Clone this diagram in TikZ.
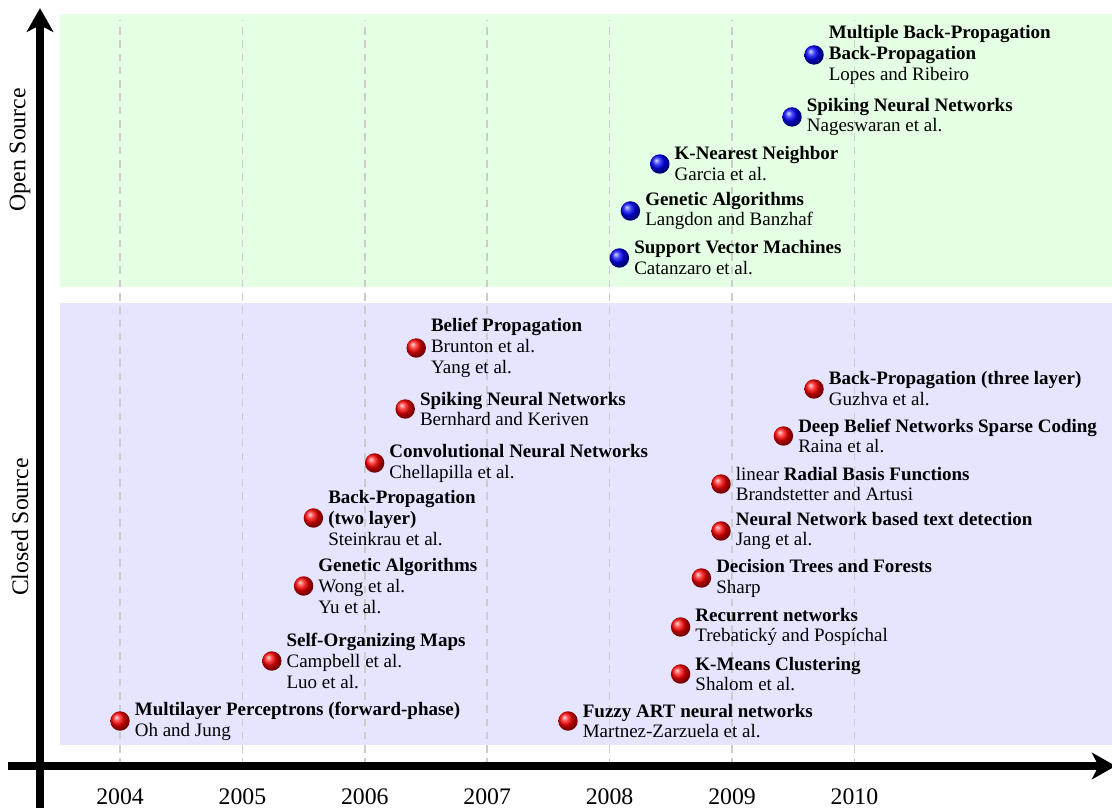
\documentclass[tikz,border=0pt]{standalone}
\usepackage{fontspec}
\setmainfont{Liberation Serif}
\usetikzlibrary{arrows.meta,positioning}

\begin{document}
\begin{tikzpicture}[
  gridline/.style={gray!40, line width=0.8pt, dash pattern=on 4pt off 3pt},
  axis/.style={line width=3.9pt, -{Stealth[length=12.5pt,width=14pt,inset=3.5pt]}},
  openball/.style={circle, inner sep=0pt, minimum size=0.36cm, shading=ball, ball color=blue},
  closedball/.style={circle, inner sep=0pt, minimum size=0.36cm, shading=ball, ball color=red},
  entry/.style={align=left, inner sep=2.3pt, font=\fontsize{10}{11}\selectfont},
  yearlabel/.style={font=\fontsize{12.5}{15}\selectfont},
  sidelabel/.style={rotate=90, font=\fontsize{12.5}{15}\selectfont}
]
\useasboundingbox (-0.74,-0.777) rectangle (19.832,14.171);

% source bands
\fill[green!10] (0.37,8.8615) rectangle (19.832,13.912);
\fill[blue!10] (0.37,0.3885) rectangle (19.832,8.5655);

\foreach \i in {0,...,6}
  \draw[gridline] ({1.48+\i*2.2644},0) -- ({1.48+\i*2.2644},13.8);

% axes
\coordinate (xstart) at (-0.592,0);
\coordinate (xend) at (19.9,0);
\coordinate (ystart) at (0,-0.777);
\coordinate (yend) at (0,14.02);
\draw[axis] (xstart) -- (xend);
\draw[axis] (ystart) -- (yend);

\foreach \yr [count=\i from 0] in {2004,...,2010}
  \node[yearlabel] (y\yr) at ({1.48+\i*2.2644},-0.5735) {\yr};

\node[sidelabel] (open) at (-0.37,11.40) {Open Source};
\node[sidelabel] (closed) at (-0.37,4.42) {Closed Source};

\begin{scope}[x=2.2644cm, xshift=1.48cm]
% open source
\node[openball] (mbp) at (5.67,13.154) {};
\node[entry, right=0pt of mbp] (mbptext) {\textbf{Multiple Back-Propagation}\\\textbf{Back-Propagation}\\Lopes and Ribeiro};
\node[openball] (snnopen) at (5.49,12.007) {};
\node[entry, right=0pt of snnopen] (snnopentext) {\textbf{Spiking Neural Networks}\\Nageswaran et al.};
\node[openball] (knn) at (4.41,11.137) {};
\node[entry, right=0pt of knn] (knntext) {\textbf{K-Nearest Neighbor}\\Garcia et al.};
\node[openball] (gaopen) at (4.17,10.268) {};
\node[entry, right=0pt of gaopen] (gaopentext) {\textbf{Genetic Algorithms}\\Langdon and Banzhaf};
\node[openball] (svm) at (4.08,9.398) {};
\node[entry, right=0pt of svm] (svmtext) {\textbf{Support Vector Machines}\\Catanzaro et al.};

% closed source
\node[closedball] (belief) at (2.42,7.733) {};
\node[entry, right=0pt of belief] (belieftext) {\textbf{Belief Propagation}\\Brunton et al.\\Yang et al.};
\node[closedball] (snn) at (2.33,6.6045) {};
\node[entry, right=0pt of snn] (snntext) {\textbf{Spiking Neural Networks}\\Bernhard and Keriven};
\node[closedball] (cnn) at (2.08,5.6055) {};
\node[entry, right=0pt of cnn] (cnntext) {\textbf{Convolutional Neural Networks}\\Chellapilla et al.};
\node[closedball] (bptwo) at (1.58,4.588) {};
\node[entry, right=0pt of bptwo] (bptwotext) {\textbf{Back-Propagation}\\\textbf{(two layer)}\\Steinkrau et al.};
\node[closedball] (ga) at (1.50,3.33) {};
\node[entry, right=0pt of ga] (gatext) {\textbf{Genetic Algorithms}\\Wong et al.\\Yu et al.};
\node[closedball] (som) at (1.24,1.9425) {};
\node[entry, right=0pt of som] (somtext) {\textbf{Self-Organizing Maps}\\Campbell et al.\\Luo et al.};
\node[closedball] (mlp) at (0,0.8325) {};
\node[entry, right=0pt of mlp] (mlptext) {\textbf{Multilayer Perceptrons (forward-phase)}\\Oh and Jung};
\node[closedball] (bpthree) at (5.67,6.9745) {};
\node[entry, right=0pt of bpthree] (bpthreetext) {\textbf{Back-Propagation (three layer)}\\Guzhva et al.};
\node[closedball] (dbn) at (5.42,6.105) {};
\node[entry, right=0pt of dbn] (dbntext) {\textbf{Deep Belief Networks Sparse Coding}\\Raina et al.};
\node[closedball] (rbf) at (4.91,5.217) {};
\node[entry, right=0pt of rbf] (rbftext) {linear \textbf{Radial Basis Functions}\\Brandstetter and Artusi};
\node[closedball] (textdet) at (4.91,4.3475) {};
\node[entry, right=0pt of textdet] (textdettext) {\textbf{Neural Network based text detection}\\Jang et al.};
\node[closedball] (trees) at (4.75,3.478) {};
\node[entry, right=0pt of trees] (treestext) {\textbf{Decision Trees and Forests}\\Sharp};
\node[closedball] (rnn) at (4.58,2.5715) {};
\node[entry, right=0pt of rnn] (rnntext) {\textbf{Recurrent networks}\\Trebatický and Pospíchal};
\node[closedball] (kmeans) at (4.58,1.702) {};
\node[entry, right=0pt of kmeans] (kmeanstext) {\textbf{K-Means Clustering}\\Shalom et al.};
\node[closedball] (fuzzy) at (3.66,0.8325) {};
\node[entry, right=0pt of fuzzy] (fuzzytext) {\textbf{Fuzzy ART neural networks}\\Martnez-Zarzuela et al.};
\end{scope}
\end{tikzpicture}
\end{document}
